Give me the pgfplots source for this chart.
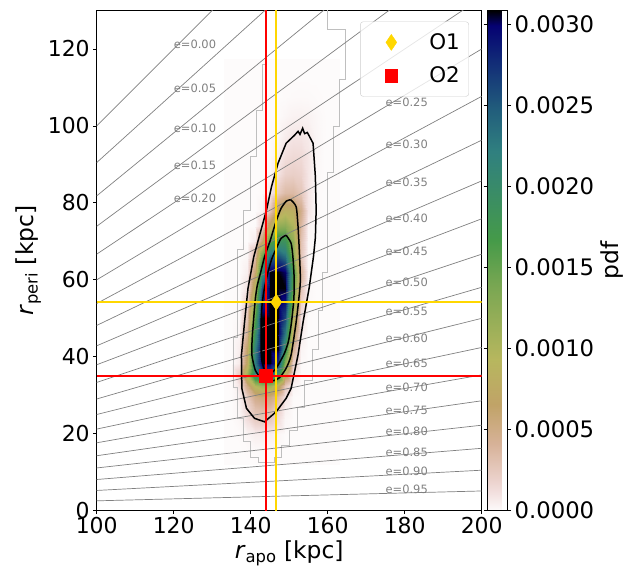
\documentclass[border=0pt]{standalone}
\usepackage{fontspec}
\setmainfont{DejaVu Sans}
\usepackage{pgfplots}
\pgfplotsset{compat=1.18}
\definecolor{gold}{rgb}{1,0.843,0}
\definecolor{pred}{rgb}{1,0,0}
\pgfplotsset{colormap={gistearthr}{[1pt] rgb(0pt)=(0.992,0.984,0.984); rgb(35pt)=(0.953,0.882,0.878); rgb(59pt)=(0.926,0.828,0.807); rgb(133pt)=(0.843,0.699,0.598); rgb(212pt)=(0.755,0.639,0.406); rgb(302pt)=(0.718,0.717,0.369); rgb(451pt)=(0.472,0.652,0.322); rgb(541pt)=(0.271,0.604,0.285); rgb(650pt)=(0.220,0.541,0.418); rgb(718pt)=(0.188,0.502,0.500); rgb(800pt)=(0.133,0.370,0.486); rgb(900pt)=(0.067,0.167,0.467); rgb(970pt)=(0.020,0.006,0.447); rgb(1000pt)=(0,0,0)}}
\newcommand{\tickfnt}{\fontsize{22}{26}\selectfont}
\newcommand{\labfnt}{\fontsize{23.5}{28}\selectfont}
\newcommand{\cbfnt}{\fontsize{22.8}{27}\selectfont}
\newcommand{\legfnt}{\fontsize{21.5}{25}\selectfont}
\pgfplotsset{eline/.style={gray, line width=0.7bp, forget plot},
  legmark/.style={legend image code/.code={\path[draw=none,fill=none] (0bp,0bp) (48bp,0bp); \draw[##1,fill opacity=1,draw opacity=1] plot coordinates {(24bp,0bp)};}}}
\tikzset{elabel/.style={anchor=base west, inner sep=0pt, text=black!50, font=\fontsize{11.5}{13}\selectfont}}
\begin{document}
\begin{tikzpicture}
\begin{axis}[name=ax, scale only axis, width=385bp, height=500.2bp,
  xmin=100, xmax=200, ymin=0, ymax=130,
  xtick={100,120,...,200}, ytick={0,20,...,120},
  tick pos=left, tick align=outside, major tick length=3.5bp,
  every tick/.style={black, line width=0.8bp},
  axis line style={line width=0.8bp},
  /pgf/number format/assume math mode=true,
  tick label style={font=\tickfnt},
  label style={font=\labfnt},
  xlabel={\textit{r}\textsubscript{apo} [kpc]},
  ylabel={\textit{r}\textsubscript{peri} [kpc]},
  colormap name=gistearthr, point meta min=0, point meta max=30.85,
  colorbar,
  colorbar style={at={(parent axis.north east)}, anchor=north west, xshift=-3bp,
    width=20.5bp, ytick={0,5,10,15,20,25,30},
    yticklabels={0.0000,0.0005,0.0010,0.0015,0.0020,0.0025,0.0030},
    yticklabel style={font=\cbfnt}, ylabel={pdf}, ylabel style={font=\labfnt},
    tick align=outside, major tick length=3.5bp,
    every tick/.style={black, line width=0.8bp},
    axis line style={line width=0.8bp}},
  legend style={at={(0.967,0.978)}, anchor=north east, draw=black!20,
    rounded corners=3bp, fill=white, fill opacity=0.8, draw opacity=1, text opacity=1,
    font=\legfnt, row sep=12bp, inner xsep=7bp, inner ysep=10bp,
    /tikz/every odd column/.append style={column sep=12bp}},
  legend cell align=left,
]
% density (units of 1e-4)
\addplot[matrix plot*, shader=interp, mesh/cols=15, point meta=explicit, forget plot] coordinates {
(134,14)[0] (136,14)[0] (138,14)[0] (140,14)[0] (142,14)[0] (144,14)[0] (146,14)[0] (148,14)[0] (150,14)[0] (152,14)[0] (154,14)[0] (156,14)[0] (158,14)[0] (160,14)[0] (162,14)[0]

(134,18)[0] (136,18)[0] (138,18)[0] (140,18)[0.05] (142,18)[0.1] (144,18)[0.1] (146,18)[0.08] (148,18)[0.03] (150,18)[0] (152,18)[0] (154,18)[0] (156,18)[0] (158,18)[0] (160,18)[0] (162,18)[0]

(134,22)[0] (136,22)[0] (138,22)[0.04] (140,22)[0.28] (142,22)[0.55] (144,22)[0.6] (146,22)[0.52] (148,22)[0.21] (150,22)[0.02] (152,22)[0] (154,22)[0] (156,22)[0] (158,22)[0] (160,22)[0] (162,22)[0]

(134,25)[0] (136,25)[0.01] (138,25)[0.2] (140,25)[1.18] (142,25)[2.28] (144,25)[2.5] (146,25)[2.28] (148,25)[1.18] (150,25)[0.2] (152,25)[0.01] (154,25)[0] (156,25)[0] (158,25)[0] (160,25)[0] (162,25)[0]

(134,28)[0] (136,28)[0.01] (138,28)[0.26] (140,28)[1.59] (142,28)[3.12] (144,28)[3.5] (146,28)[3.31] (148,28)[1.91] (150,28)[0.42] (152,28)[0.02] (154,28)[0] (156,28)[0] (158,28)[0] (160,28)[0] (162,28)[0]

(134,31)[0] (136,31)[0.02] (138,31)[0.44] (140,31)[2.45] (142,31)[4.84] (144,31)[5.5] (146,31)[5.25] (148,31)[3.44] (150,31)[0.94] (152,31)[0.07] (154,31)[0] (156,31)[0] (158,31)[0] (160,31)[0] (162,31)[0]

(134,34)[0] (136,34)[0.04] (138,34)[0.94] (140,34)[4.84] (142,34)[9.5] (144,34)[11] (146,34)[10.7] (148,34)[7.6] (150,34)[2.6] (152,34)[0.28] (154,34)[0.01] (156,34)[0] (158,34)[0] (160,34)[0] (162,34)[0]

(134,37)[0] (136,37)[0.09] (138,37)[2.1] (140,37)[11] (142,37)[22] (144,37)[25.9] (146,37)[25.6] (148,37)[19.5] (150,37)[7.8] (152,37)[1.1] (154,37)[0.04] (156,37)[0] (158,37)[0] (160,37)[0] (162,37)[0]

(134,40)[0] (136,40)[0.01] (138,40)[0.63] (140,40)[7.1] (142,40)[22.5] (144,40)[30.8] (146,40)[30.8] (148,40)[27.7] (150,40)[12.7] (152,40)[2] (154,40)[0.07] (156,40)[0] (158,40)[0] (160,40)[0] (162,40)[0]

(134,44)[0] (136,44)[0.01] (138,44)[0.55] (140,44)[6.5] (142,44)[22.1] (144,44)[30.8] (146,44)[30.8] (148,44)[30.8] (150,44)[18.7] (152,44)[4.3] (154,44)[0.27] (156,44)[0] (158,44)[0] (160,44)[0] (162,44)[0]

(134,48)[0] (136,48)[0] (138,48)[0.28] (140,48)[4.4] (142,48)[19.2] (144,48)[30.8] (146,48)[30.8] (148,48)[30.8] (150,48)[22.8] (152,48)[6.7] (154,48)[0.56] (156,48)[0.01] (158,48)[0] (160,48)[0] (162,48)[0]

(134,52)[0] (136,52)[0] (138,52)[0.13] (140,52)[2.9] (142,52)[15.6] (144,52)[30.8] (146,52)[30.8] (148,52)[30.8] (150,52)[26.2] (152,52)[9.3] (154,52)[1.0] (156,52)[0.03] (158,52)[0] (160,52)[0] (162,52)[0]

(134,56)[0] (136,56)[0] (138,56)[0.07] (140,56)[1.8] (142,56)[12.3] (144,56)[29] (146,56)[30.8] (148,56)[30.8] (150,56)[29] (152,56)[12.3] (154,56)[1.8] (156,56)[0.07] (158,56)[0] (160,56)[0] (162,56)[0]

(134,60)[0] (136,60)[0] (138,60)[0.02] (140,60)[1.0] (142,60)[9] (144,60)[25.6] (146,60)[30.8] (148,60)[30.8] (150,60)[30.8] (152,60)[15.1] (154,60)[2.8] (156,60)[0.13] (158,60)[0] (160,60)[0] (162,60)[0]

(134,64)[0] (136,64)[0] (138,64)[0.01] (140,64)[0.5] (142,64)[5.9] (144,64)[20.3] (146,64)[30.8] (148,64)[30.8] (150,64)[30] (152,64)[17.2] (154,64)[4] (156,64)[0.25] (158,64)[0] (160,64)[0] (162,64)[0]

(134,68)[0] (136,68)[0] (138,68)[0] (140,68)[0.23] (142,68)[3.5] (144,68)[14.7] (146,68)[24.5] (148,68)[26] (150,68)[23.7] (152,68)[13] (154,68)[2.7] (156,68)[0.14] (158,68)[0] (160,68)[0] (162,68)[0]

(134,72)[0] (136,72)[0] (138,72)[0] (140,72)[0.01] (142,72)[0.65] (144,72)[6.1] (146,72)[15.4] (148,72)[19] (150,72)[18.4] (152,72)[12] (154,72)[3] (156,72)[0.17] (158,72)[0] (160,72)[0] (162,72)[0]

(134,76)[0] (136,76)[0] (138,76)[0] (140,76)[0] (142,76)[0.07] (144,76)[1.7] (146,76)[7.6] (148,76)[12.1] (150,76)[12.5] (152,76)[10] (154,76)[3.6] (156,76)[0.33] (158,76)[0.01] (160,76)[0] (162,76)[0]

(134,80)[0] (136,80)[0] (138,80)[0] (140,80)[0] (142,80)[0] (144,80)[0.3] (146,80)[2.9] (148,80)[7.1] (150,80)[8.5] (152,80)[8.1] (154,80)[4.7] (156,80)[0.94] (158,80)[0.03] (160,80)[0] (162,80)[0]

(134,85)[0] (136,85)[0] (138,85)[0] (140,85)[0] (142,85)[0] (144,85)[0.04] (146,85)[0.61] (148,85)[2.4] (150,85)[3.5] (152,85)[3.6] (154,85)[2.7] (156,85)[0.9] (158,85)[0.06] (160,85)[0] (162,85)[0]

(134,90)[0] (136,90)[0] (138,90)[0] (140,90)[0] (142,90)[0] (144,90)[0] (146,90)[0.16] (148,90)[0.98] (150,90)[1.9] (152,90)[2.1] (154,90)[1.87] (156,90)[0.88] (158,90)[0.12] (160,90)[0] (162,90)[0]

(134,95)[0] (136,95)[0] (138,95)[0] (140,95)[0] (142,95)[0] (144,95)[0] (146,95)[0.04] (148,95)[0.42] (150,95)[1.15] (152,95)[1.44] (154,95)[1.39] (156,95)[0.88] (158,95)[0.19] (160,95)[0.01] (162,95)[0]

(134,100)[0] (136,100)[0] (138,100)[0] (140,100)[0] (142,100)[0] (144,100)[0] (146,100)[0.01] (148,100)[0.15] (150,100)[0.6] (152,100)[0.88] (154,100)[0.9] (156,100)[0.68] (158,100)[0.22] (160,100)[0.02] (162,100)[0]

(134,105)[0] (136,105)[0] (138,105)[0] (140,105)[0] (142,105)[0] (144,105)[0] (146,105)[0] (148,105)[0.04] (150,105)[0.21] (152,105)[0.37] (154,105)[0.4] (156,105)[0.35] (158,105)[0.17] (160,105)[0.02] (162,105)[0]

(134,110)[0] (136,110)[0] (138,110)[0] (140,110)[0] (142,110)[0] (144,110)[0] (146,110)[0] (148,110)[0] (150,110)[0.03] (152,110)[0.08] (154,110)[0.1] (156,110)[0.09] (158,110)[0.05] (160,110)[0.01] (162,110)[0]

(134,115)[0] (136,115)[0] (138,115)[0] (140,115)[0] (142,115)[0] (144,115)[0] (146,115)[0] (148,115)[0] (150,115)[0] (152,115)[0] (154,115)[0] (156,115)[0] (158,115)[0] (160,115)[0] (162,115)[0]
};
% light grey histogram outline
\addplot[black!25, line width=0.6bp, forget plot] coordinates {
(144,131) (144,116) (143,116) (143,104) (141.5,104) (141.5,92) (140,92) (140,78) (138,78) (138,68) (136.5,68) (136.5,45) (135.5,45) (135.5,32) (136.5,32) (136.5,24) (138,24) (138,18) (140,18) (140,14) (142,14) (142,12.5) (146,12.5) (146,14) (148,14) (148,17) (150,17) (150,21) (152,21) (152,27) (154,27) (154,34) (156,34) (156,42) (157.5,42) (157.5,52) (158.5,52) (158.5,62) (160,62) (160,88) (161.5,88) (161.5,100) (163,100) (163,112) (164.5,112) (164.5,125) (160,125) (160,131)};
% constant eccentricity lines
\addplot[eline] coordinates {(100,100) (200,200)};
\addplot[eline] coordinates {(100,90.476) (200,180.952)};
\addplot[eline] coordinates {(100,81.818) (200,163.636)};
\addplot[eline] coordinates {(100,73.913) (200,147.826)};
\addplot[eline] coordinates {(100,66.667) (200,133.333)};
\addplot[eline] coordinates {(100,60) (200,120)};
\addplot[eline] coordinates {(100,53.846) (200,107.692)};
\addplot[eline] coordinates {(100,48.148) (200,96.296)};
\addplot[eline] coordinates {(100,42.857) (200,85.714)};
\addplot[eline] coordinates {(100,37.931) (200,75.862)};
\addplot[eline] coordinates {(100,33.333) (200,66.667)};
\addplot[eline] coordinates {(100,29.032) (200,58.065)};
\addplot[eline] coordinates {(100,25) (200,50)};
\addplot[eline] coordinates {(100,21.212) (200,42.424)};
\addplot[eline] coordinates {(100,17.647) (200,35.294)};
\addplot[eline] coordinates {(100,14.286) (200,28.571)};
\addplot[eline] coordinates {(100,11.111) (200,22.222)};
\addplot[eline] coordinates {(100,8.108) (200,16.216)};
\addplot[eline] coordinates {(100,5.263) (200,10.526)};
\addplot[eline] coordinates {(100,2.564) (200,5.128)};
\node[elabel] at (axis cs:120,120) {e=0.00};
\node[elabel] at (axis cs:120,108.57) {e=0.05};
\node[elabel] at (axis cs:120,98.18) {e=0.10};
\node[elabel] at (axis cs:120,88.70) {e=0.15};
\node[elabel] at (axis cs:120,80) {e=0.20};
\node[elabel] at (axis cs:175,105) {e=0.25};
\node[elabel] at (axis cs:175,94.23) {e=0.30};
\node[elabel] at (axis cs:175,84.26) {e=0.35};
\node[elabel] at (axis cs:175,75) {e=0.40};
\node[elabel] at (axis cs:175,66.38) {e=0.45};
\node[elabel] at (axis cs:175,58.33) {e=0.50};
\node[elabel] at (axis cs:175,50.81) {e=0.55};
\node[elabel] at (axis cs:175,43.75) {e=0.60};
\node[elabel] at (axis cs:175,37.12) {e=0.65};
\node[elabel] at (axis cs:175,30.88) {e=0.70};
\node[elabel] at (axis cs:175,25) {e=0.75};
\node[elabel] at (axis cs:175,19.44) {e=0.80};
\node[elabel] at (axis cs:175,14.19) {e=0.85};
\node[elabel] at (axis cs:175,9.21) {e=0.90};
\node[elabel] at (axis cs:175,4.49) {e=0.95};
% contours
\addplot[black, line width=1.5bp, forget plot] coordinates {
(151.4,97.6) (152.3,98.6) (152.8,97.8) (153.5,99.4) (154.0,98.0) (154.7,98.3) (155.3,97.2) (156.2,95.5) (156.8,86.8) (157.0,78.1) (156.8,71) (156.3,66) (155.2,58) (153.6,49) (152.3,40.5) (150.5,31.8) (149.2,29.2) (146.6,25.7) (143.6,23.1) (141.0,24) (138.9,26.6) (137.7,31.8) (137.6,40.5) (138.4,49) (139.3,57.8) (140.8,66) (142.2,71.2) (144.1,78.1) (145.4,84.2) (147.1,90.3) (149.2,95.5) (151.4,97.6)};
\addplot[black, line width=1.5bp, smooth, tension=0.4, forget plot] coordinates {
(150.4,80.8) (151.8,79) (152.3,73.8) (152.7,66) (152.9,60) (152.6,56) (151.8,49) (150.5,40.5) (149.2,37) (147.5,34.6) (146,33.8) (144.3,33.8) (142.6,34.6) (141.2,36.5) (140.3,40.5) (140.4,45) (140.7,49) (141.2,55) (141.7,58.5) (142.6,62) (143.6,66) (145.0,70) (145.9,73) (146.7,75.5) (147.9,78.6) (149.3,80.5) (150.4,80.8)};
\addplot[black, line width=1.5bp, smooth, tension=0.4, forget plot] coordinates {
(149.2,71.6) (150.5,69.5) (151.0,65.5) (151.3,60) (151.2,55) (150.6,49) (149.8,44) (148.8,41) (147.5,38.5) (146.2,36.5) (144.8,35.6) (143.6,36.6) (142.9,39) (142.7,42) (142.7,49) (143.0,54) (143.6,58) (144.5,62) (145.5,65.5) (146.8,68.5) (147.9,70.8) (149.2,71.6)};
% reference lines
\addplot[draw=pred, color=pred, line width=2bp, forget plot] coordinates {(143.9,0) (143.9,130)};
\addplot[draw=gold, color=gold, line width=2bp, forget plot] coordinates {(146.65,0) (146.65,130)};
\addplot[draw=gold, color=gold, line width=2bp, forget plot] coordinates {(100,54.2) (200,54.2)};
\addplot[draw=pred, color=pred, line width=2bp, forget plot] coordinates {(100,35.1) (200,35.1)};
% markers
\addplot[only marks, mark=diamond*, mark size=8bp, color=gold, mark options={xscale=0.9}, legmark] coordinates {(146.65,54.2)};
\addlegendentry{O1}
\addplot[only marks, mark=square*, mark size=6.2bp, color=pred, legmark] coordinates {(143.9,35.1)};
\addlegendentry{O2}
\end{axis}
\pgfresetboundingbox
\path[use as bounding box] ([xshift=-96.7bp,yshift=-61.3bp]ax.south west) rectangle ++(634bp,572bp);
\end{tikzpicture}
\end{document}
